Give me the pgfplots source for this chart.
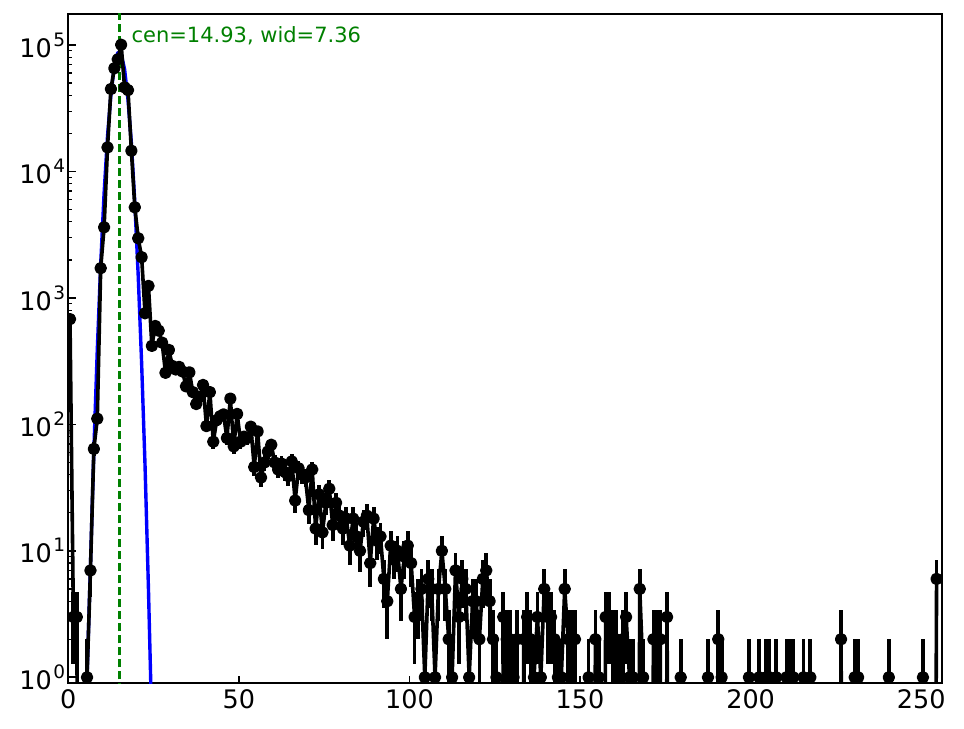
\documentclass[border=0pt]{standalone}
\usepackage{fontspec}
\setmainfont{DejaVu Sans}
\usepackage{pgfplots}
\pgfplotsset{compat=1.18}
\usepackage{pgfplotstable}
\definecolor{mgreen}{RGB}{0,128,0}
\definecolor{mblue}{RGB}{0,0,255}
\newcommand{\tl}[1]{10\kern1.5pt\raisebox{0.43em}{\fontsize{18.5}{18.5}\selectfont #1}}

\pgfplotstableread{
x y
0.5 680
1.5 3
2.5 3
3.5 1e-6
4.5 1e-6
5.5 1
6.5 7
7.5 64
8.5 111
9.5 1720
10.5 3620
11.5 15500
12.5 44900
13.5 65500
14.5 77100
15.5 100500
16.5 46300
17.5 44000
18.5 14600
19.5 5210
20.5 2965
21.5 2100
22.5 757
23.5 1245
24.5 418
25.5 600
26.5 551
27.5 443
28.5 256
29.5 388
30.5 290
31.5 272
32.5 285
33.5 262
34.5 200
35.5 258
36.5 180
37.5 145
38.5 165
39.5 205
40.5 97
41.5 180
42.5 73
43.5 108
44.5 116
45.5 120
46.5 78
47.5 160
48.5 67
49.5 121
50.5 73
51.5 80
52.5 78
53.5 96
54.5 46
55.5 88
56.5 38
57.5 50
58.5 61
59.5 69
60.5 50
61.5 44
62.5 49
63.5 42
64.5 39
65.5 51
66.5 25
67.5 45
68.5 40
69.5 38
70.5 21
71.5 44
72.5 15
73.5 28
74.5 14
75.5 24
76.5 31
77.5 16
78.5 24
79.5 19
80.5 15
81.5 18
82.5 11
83.5 18
84.5 13
85.5 10
86.5 17
87.5 19
88.5 8
89.5 18
90.5 12
91.5 13
92.5 6
93.5 4
94.5 11
95.5 9
96.5 10
97.5 5
98.5 9
99.5 11
100.5 8
101.5 3
102.5 4
103.5 5
104.5 1
105.5 6
106.5 5
107.5 1
108.5 5
109.5 10
110.5 5
111.5 2
112.5 1
113.5 7
114.5 3
115.5 6
116.5 5
117.5 1
118.5 4
119.5 4
120.5 2
121.5 6
122.5 7
123.5 4
124.5 2
125.5 1
126.5 1e-6
127.5 3
128.5 2
129.5 2
130.5 1
131.5 2
132.5 1e-6
133.5 2
134.5 3
135.5 2
136.5 1
137.5 3
138.5 1
139.5 5
140.5 3
141.5 3
142.5 2
143.5 1
144.5 1
145.5 5
146.5 2
147.5 2
148.5 2
149.5 1e-6
150.5 1e-6
151.5 1e-6
152.5 1
153.5 1e-6
154.5 2
155.5 1
156.5 1e-6
157.5 3
158.5 3
159.5 2
160.5 2
161.5 1
162.5 2
163.5 3
164.5 1
165.5 1
166.5 1e-6
167.5 5
168.5 1
169.5 1e-6
170.5 1e-6
171.5 2
172.5 2
173.5 2
174.5 1e-6
175.5 3
176.5 1e-6
177.5 1e-6
178.5 1e-6
179.5 1
180.5 1e-6
181.5 1e-6
182.5 1e-6
183.5 1e-6
184.5 1e-6
185.5 1e-6
186.5 1e-6
187.5 1
188.5 1e-6
189.5 1e-6
190.5 2
191.5 1
192.5 1e-6
193.5 1e-6
194.5 1e-6
195.5 1e-6
196.5 1e-6
197.5 1e-6
198.5 1e-6
199.5 1
200.5 1e-6
201.5 1e-6
202.5 1
203.5 1e-6
204.5 1
205.5 1
206.5 1e-6
207.5 1
208.5 1e-6
209.5 1e-6
210.5 1
211.5 1
212.5 1
213.5 1e-6
214.5 1e-6
215.5 1
216.5 1e-6
217.5 1
218.5 1e-6
219.5 1e-6
220.5 1e-6
221.5 1e-6
222.5 1e-6
223.5 1e-6
224.5 1e-6
225.5 1e-6
226.5 2
227.5 1e-6
228.5 1e-6
229.5 1e-6
230.5 1
231.5 1
232.5 1e-6
233.5 1e-6
234.5 1e-6
235.5 1e-6
236.5 1e-6
237.5 1e-6
238.5 1e-6
239.5 1e-6
240.5 1
241.5 1e-6
242.5 1e-6
243.5 1e-6
244.5 1e-6
245.5 1e-6
246.5 1e-6
247.5 1e-6
248.5 1e-6
249.5 1e-6
250.5 1
251.5 1e-6
252.5 1e-6
253.5 1e-6
254.5 6
}\datatable

\pgfplotstableread{
x y
3.5 0.003
4.5 0.054
5.5 1.0
6.5 7.7
7.5 62.6
8.5 386
9.5 1840
10.5 6730
11.5 18930
12.5 40900
13.5 68000
14.5 86860
15.5 85270
16.5 64340
17.5 37300
18.5 16640
19.5 5700
20.5 1500
21.5 304
22.5 47.2
23.5 5.0
24.5 0.40
25.5 0.037
26.5 0.002
}\fittable

\begin{document}
\begin{tikzpicture}
\path[use as bounding box] (-68.3pt,-45.5pt) rectangle (896pt,683.5pt);
\begin{axis}[
  at={(0pt,0pt)}, anchor=south west,
  width=873.7pt, height=669.5pt, scale only axis,
  xmin=0, xmax=256, ymin=0.897, ymax=1.76e5,
  ymode=log,
  clip marker paths=true,
  axis line style={line width=1.7pt, black},
  tick pos=left, tick align=inside,
  major tick length=7.3pt, minor tick length=4.2pt,
  major tick style={line width=1.7pt, black},
  minor tick style={line width=1.3pt, black},
  xtick={0,50,100,150,200,250},
  xticklabels={0,50,100,150,200,250},
  minor xtick={},
  ytick={1,10,100,1000,10000,100000},
  yticklabels={\tl{0},\tl{1},\tl{2},\tl{3},\tl{4},\tl{5}},
  minor ytick={2,3,4,5,6,7,8,9,20,30,40,50,60,70,80,90,200,300,400,500,600,700,800,900,2000,3000,4000,5000,6000,7000,8000,9000,20000,30000,40000,50000,60000,70000,80000,90000},
  tick label style={font=\fontsize{25.5}{30}\selectfont},
  yticklabel style={anchor=east, inner sep=0pt, xshift=-3pt},
  xticklabel style={anchor=north, inner sep=0pt, yshift=-6.5pt},
]
\addplot[mblue, line width=3.4pt, line join=round] table[x=x,y=y] {\fittable};
\addplot[mgreen, line width=2.8pt, dash pattern=on 8pt off 4pt] coordinates {(14.93,0.5) (14.93,3e5)};
\addplot[black, line width=3.6pt, line join=round,
  mark=*, mark size=4.4pt, mark options={solid, fill=black, draw=none},
  error bars/.cd, y dir=both, y explicit, error mark=none,
  error bar style={line width=3.8pt, black}]
  table[x=x, y=y, y error plus expr={sqrt(\thisrow{y})}, y error minus expr={min(sqrt(\thisrow{y}),0.999*\thisrow{y})}] {\datatable};
\node[anchor=base west, inner sep=0pt, text=mgreen, font=\fontsize{21}{25}\selectfont] at (axis cs:18.5,104200) {cen=14.93, wid=7.36};
\end{axis}
\end{tikzpicture}
\end{document}
